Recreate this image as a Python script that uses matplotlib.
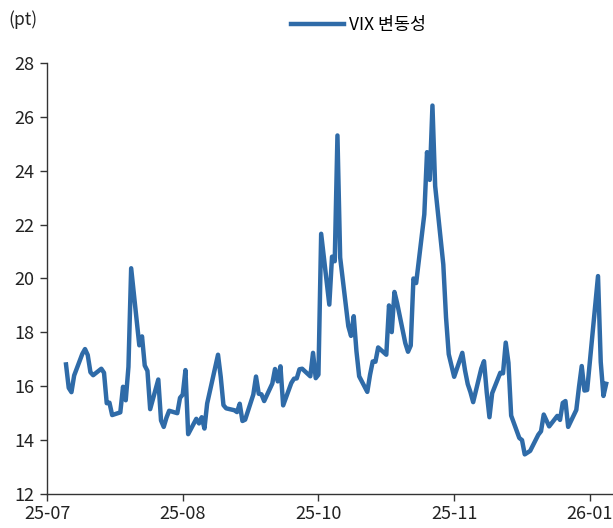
#!/usr/bin/env python3
"""VIX daily level, Jul 2025 - Jan 2026"""

import pandas as pd
import numpy as np
import matplotlib.pyplot as plt
import matplotlib.dates as mdates

plt.rcParams['font.family'] = ['Noto Sans CJK KR', 'DejaVu Sans']

LINE_COLOR = '#2f6ba8'

# trading days (NYSE holidays removed)
HOLIDAYS = ['2025-09-01', '2025-11-27', '2025-12-25', '2026-01-01', '2026-01-19']
dates = pd.bdate_range('2025-07-08', '2026-01-23')
dates = dates[~dates.isin(pd.to_datetime(HOLIDAYS))]

vix_jul = [16.81, 15.94, 15.78, 16.40, 17.20, 17.38, 17.16, 16.52, 16.41, 16.65,
           16.50, 15.37, 15.39, 14.93, 15.03, 15.98, 15.48, 16.72]
vix_aug = [20.38, 17.52, 17.85, 16.77, 16.57, 15.15, 16.25, 14.73, 14.49, 14.83,
           15.09, 15.00, 15.57, 15.69, 16.60, 14.22, 14.79, 14.62, 14.85, 14.43, 15.36]
vix_sep = [17.17, 16.35, 15.30, 15.18, 15.11, 15.04, 15.35, 14.71, 14.76, 15.69,
           16.36, 15.72, 15.70, 15.45, 16.10, 16.64, 16.18, 16.74, 15.29, 16.12, 16.28]
vix_oct = [16.29, 16.63, 16.65, 16.37, 17.24, 16.30, 16.43, 21.66, 19.03, 20.81,
           20.64, 25.31, 20.78, 18.23, 17.87, 18.60, 17.30, 16.37, 15.79, 16.42,
           16.92, 16.91, 17.44]
vix_nov = [17.17, 19.00, 18.01, 19.50, 19.08, 17.60, 17.28, 17.51, 20.00, 19.83,
           22.38, 24.69, 23.66, 26.42, 23.43, 20.52, 18.56, 17.19, 16.35]
vix_dec = [17.24, 16.59, 16.08, 15.78, 15.41, 16.66, 16.93, 15.77, 14.85, 15.74,
           16.50, 16.48, 17.62, 16.87, 14.91, 14.08, 14.00, 13.47, 13.60, 14.20,
           14.33, 14.95]
vix_jan = [14.51, 14.90, 14.75, 15.38, 15.45, 14.49, 15.12, 15.98, 16.75, 15.84,
           15.86, 20.09, 16.90, 15.64, 16.09]

vix = np.array(vix_jul + vix_aug + vix_sep + vix_oct + vix_nov + vix_dec + vix_jan)

# x tick positions (every 50 days from 2025-07-01)
TICK_DATES = ['2025-07-01', '2025-08-20', '2025-10-09', '2025-11-28', '2026-01-17']
Y_TICKS = list(range(12, 29, 2))


def main():
    assert len(dates) == len(vix), (len(dates), len(vix))

    fig = plt.figure(figsize=(6.13, 5.28), dpi=100)
    ax = fig.add_axes([0.0767, 0.0644, 0.921, 0.8163])

    ax.plot(dates, vix, color=LINE_COLOR, lw=3.2, solid_joinstyle='round',
            label='VIX 변동성')

    ax.set_ylim(12, 28)
    ax.set_yticks(Y_TICKS)
    ax.set_xlim(pd.Timestamp('2025-07-01'), pd.Timestamp('2026-01-25'))
    ax.set_xticks(pd.to_datetime(TICK_DATES))
    ax.xaxis.set_major_formatter(mdates.DateFormatter('%y-%m'))

    for side in ['top', 'right']:
        ax.spines[side].set_visible(False)
    for side in ['left', 'bottom']:
        ax.spines[side].set_color('#333333')
        ax.spines[side].set_linewidth(1.0)

    ax.tick_params(axis='both', direction='out', length=5, width=1,
                   color='#333333', labelsize=13, labelcolor='#222222')
    ax.tick_params(axis='y', pad=4)
    ax.tick_params(axis='x', pad=3)

    fig.text(0.013, 0.962, '(pt)', fontsize=12.5, color='#222222', va='center')
    fig.legend(loc='center', bbox_to_anchor=(0.585, 0.952), frameon=False,
               fontsize=12.5, handlelength=3.0, handletextpad=0.3)

    plt.savefig('out.png', dpi=100)
    plt.close()


if __name__ == '__main__':
    main()
